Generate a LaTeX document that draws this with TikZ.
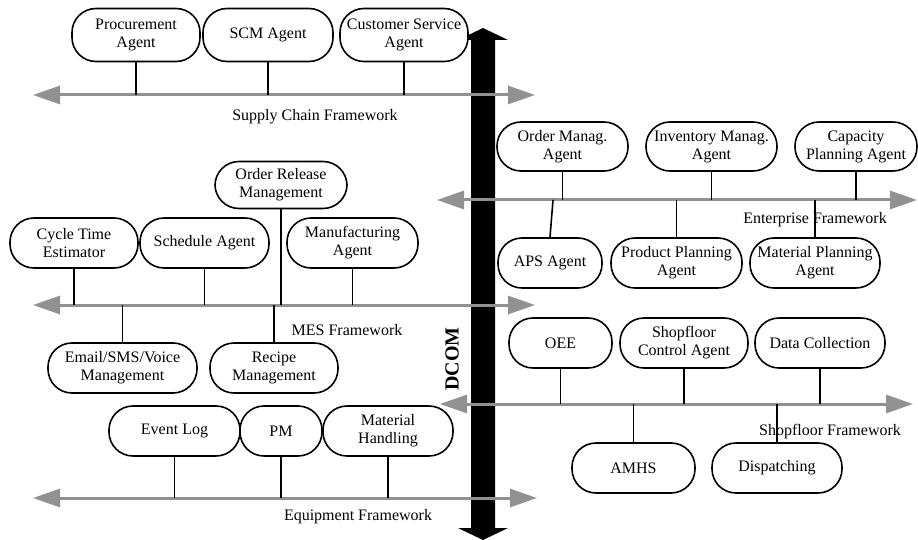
\documentclass[tikz,border=0pt]{standalone}
\usepackage{fontspec}
\setmainfont{Liberation Serif}
\usetikzlibrary{arrows.meta,calc}
\definecolor{busgray}{RGB}{145,145,145}
\begin{document}
\begin{tikzpicture}[x=1pt,y=-1pt,
  agent/.style={draw, line width=1.6pt, fill=white, rounded corners=24pt,
    align=center, inner sep=0pt, minimum height=50pt,
    font=\fontsize{16}{18}\selectfont},
  bus/.style={draw=busgray, line width=3pt,
    {Triangle[length=27pt,width=18pt,fill=busgray]}-{Triangle[length=27pt,width=18pt,fill=busgray]}},
  link/.style={line width=1.6pt},
  flabel/.style={font=\fontsize{16}{18}\selectfont, inner sep=0pt}]
\useasboundingbox (0,0) rectangle (918,540);

% DCOM backbone
\fill (483,28) -- (508,40) -- (495,40) -- (495,528) -- (508,528) -- (483,540)
  -- (458,528) -- (471,528) -- (471,40) -- (458,40) -- cycle;
\node[font=\fontsize{20}{22}\selectfont\bfseries, rotate=90] (dcom) at (452,359) {DCOM};

% Supply chain agents
\node[agent, minimum width=128pt, minimum height=53pt] (proc) at (136,35) {Procurement\\Agent};
\node[agent, minimum width=130pt, minimum height=53pt] (scm) at (268,35) {SCM Agent};
\node[agent, minimum width=128pt, minimum height=53pt] (cust) at (404,35) {Customer Service\\Agent};

% MES agents
\node[agent, minimum width=132pt, minimum height=47pt] (orel) at (281,185) {Order Release\\Management};
\node[agent, minimum width=128pt] (cycle) at (74,243) {Cycle Time\\Estimator};
\node[agent, minimum width=129pt] (sched) at (204.5,243) {Schedule Agent};
\node[agent, minimum width=131pt] (manu) at (352.5,243) {Manufacturing\\Agent};
\node[agent, minimum width=149pt] (email) at (122.5,368) {Email/SMS/Voice\\Management};
\node[agent, minimum width=128pt] (recipe) at (274,368) {Recipe\\Management};

% Equipment agents
\node[agent, minimum width=131pt] (evlog) at (174.5,431) {Event Log};
\node[agent, minimum width=82pt] (pm) at (281,431) {PM};
\node[agent, minimum width=130pt] (mh) at (388,431) {Material\\Handling};

% Enterprise agents
\node[agent, minimum width=131pt, minimum height=49pt] (ordm) at (562.5,146.5) {Order Manag.\\Agent};
\node[agent, minimum width=131pt, minimum height=49pt] (inv) at (711.5,146.5) {Inventory Manag.\\Agent};
\node[agent, minimum width=122pt, minimum height=49pt] (cap) at (856,146.5) {Capacity\\Planning Agent};
\node[agent, minimum width=104pt] (aps) at (550,263) {APS Agent};
\node[agent, minimum width=131pt] (prod) at (676.5,263) {Product Planning\\Agent};
\node[agent, minimum width=130pt] (mat) at (815,263) {Material Planning\\Agent};

% Shopfloor agents
\node[agent, minimum width=103pt] (oee) at (560.5,343) {OEE};
\node[agent, minimum width=128pt] (sfc) at (684,343) {Shopfloor\\Control Agent};
\node[agent, minimum width=130pt] (dc) at (820,343) {Data Collection};
\node[agent, minimum width=123pt] (amhs) at (633.5,468) {AMHS};
\node[agent, minimum width=130pt] (disp) at (777,468) {Dispatching};

% Framework buses
\coordinate (scL) at (33,95);   \coordinate (scR) at (535,95);
\coordinate (mesL) at (33,305); \coordinate (mesR) at (535,305);
\coordinate (eqL) at (33,498);  \coordinate (eqR) at (537,498);
\coordinate (entL) at (437,200); \coordinate (entR) at (917,200);
\coordinate (sfL) at (440,404); \coordinate (sfR) at (913,404);
\draw[bus] (scL) -- (scR);
\draw[bus] (mesL) -- (mesR);
\draw[bus] (eqL) -- (eqR);
\draw[bus] (entL) -- (entR);
\draw[bus] (sfL) -- (sfR);

% Framework labels
\node[flabel] (scfw) at (315,117) {Supply Chain Framework};
\node[flabel] (mesfw) at (347,330) {MES Framework};
\node[flabel] (eqfw) at (358,517) {Equipment Framework};
\node[flabel] (entfw) at (815,220) {Enterprise Framework};
\node[flabel] (sffw) at (830,432) {Shopfloor Framework};

% Links from agents to their buses
\foreach \n in {proc,scm,cust}
  \draw[link] (\n.south) -- (\n.south |- scL);
\foreach \n in {cycle,sched,orel,manu}
  \draw[link] (\n.south) -- (\n.south |- mesL);
\foreach \n in {email,recipe}
  \draw[link] (\n.north) -- (\n.north |- mesL);
\foreach \n in {evlog,pm,mh}
  \draw[link] (\n.south) -- (\n.south |- eqL);
\foreach \n in {ordm,inv,cap}
  \draw[link] (\n.south) -- (\n.south |- entL);
\draw[link] (aps.north) -- ($(aps.north |- entL)+(3,0)$);
\foreach \n in {prod,mat}
  \draw[link] (\n.north) -- (\n.north |- entL);
\foreach \n in {oee,sfc,dc}
  \draw[link] (\n.south) -- (\n.south |- sfL);
\foreach \n in {amhs,disp}
  \draw[link] (\n.north) -- (\n.north |- sfL);
\end{tikzpicture}
\end{document}
